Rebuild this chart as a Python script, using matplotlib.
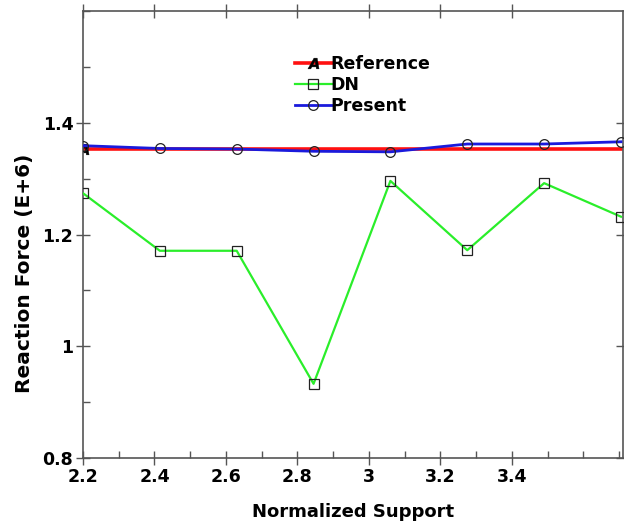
import numpy as np
import matplotlib
matplotlib.use("Agg")
import matplotlib.pyplot as plt
from matplotlib.ticker import MultipleLocator

# data
support = [2.2, 2.415, 2.63, 2.845, 3.06, 3.275, 3.49, 3.705]
reference = [1.353, 1.353, 1.353, 1.353, 1.353, 1.353, 1.353, 1.353]
dn = [1.274, 1.171, 1.171, 0.933, 1.296, 1.172, 1.292, 1.232]
present = [1.359, 1.354, 1.353, 1.349, 1.348, 1.362, 1.362, 1.366]

plt.rcParams["font.family"] = "DejaVu Sans"
plt.rcParams["font.weight"] = "bold"

fig = plt.figure(figsize=(6.24, 5.23), dpi=100)
ax = fig.add_axes([0.133, 0.124, 0.865, 0.855])

ax.plot(support, reference, color="#ff1010", lw=2.6, marker="$A$",
        markevery=[0], ms=8, mec="black", mfc="black", mew=0.3, label="Reference", zorder=2)
ax.plot(support, dn, color="#2aee2a", lw=1.6, marker="s", ms=6.5,
        mfc="none", mec="#222222", mew=0.9, label="DN", zorder=3)
ax.plot(support, present, color="#1a1adc", lw=2.0, marker="o", ms=7,
        mfc="none", mec="#222222", mew=0.9, label="Present", zorder=3)

ax.set_xlim(2.2, 3.71)
ax.set_ylim(0.8, 1.6)
ax.xaxis.set_minor_locator(MultipleLocator(0.1))
ax.yaxis.set_minor_locator(MultipleLocator(0.1))
ax.set_xticks([2.2, 2.4, 2.6, 2.8, 3.0, 3.2, 3.4])
ax.set_xticklabels(["2.2", "2.4", "2.6", "2.8", "3", "3.2", "3.4"])
ax.set_yticks([0.8, 1.0, 1.2, 1.4])
ax.set_yticklabels(["0.8", "1", "1.2", "1.4"])

ax.tick_params(which="major", direction="inout", length=10, width=1, color="#555555",
               labelsize=12.5, pad=2, top=True, right=True)
ax.tick_params(which="minor", direction="in", length=5, width=1, color="#555555")
ax.xaxis.set_tick_params(which="minor", top=False)
ax.yaxis.set_tick_params(which="minor", right=False)
for lab in ax.get_xticklabels() + ax.get_yticklabels():
    lab.set_fontweight("bold")
for s in ax.spines.values():
    s.set_color("#555555")
    s.set_linewidth(1.2)

ax.set_xlabel("Normalized Support", fontsize=13, fontweight="bold", labelpad=12)
ax.set_ylabel("Reaction Force (E+6)", fontsize=14.5, fontweight="bold")
ax.yaxis.set_label_coords(-0.091, 0.414)

leg = ax.legend(loc="upper left", bbox_to_anchor=(0.377, 0.92), frameon=False,
                prop={"size": 12.5, "weight": "bold"}, handlelength=2.1,
                handletextpad=-0.1, labelspacing=0.15, borderpad=0)

fig.savefig("out.png", dpi=100)
